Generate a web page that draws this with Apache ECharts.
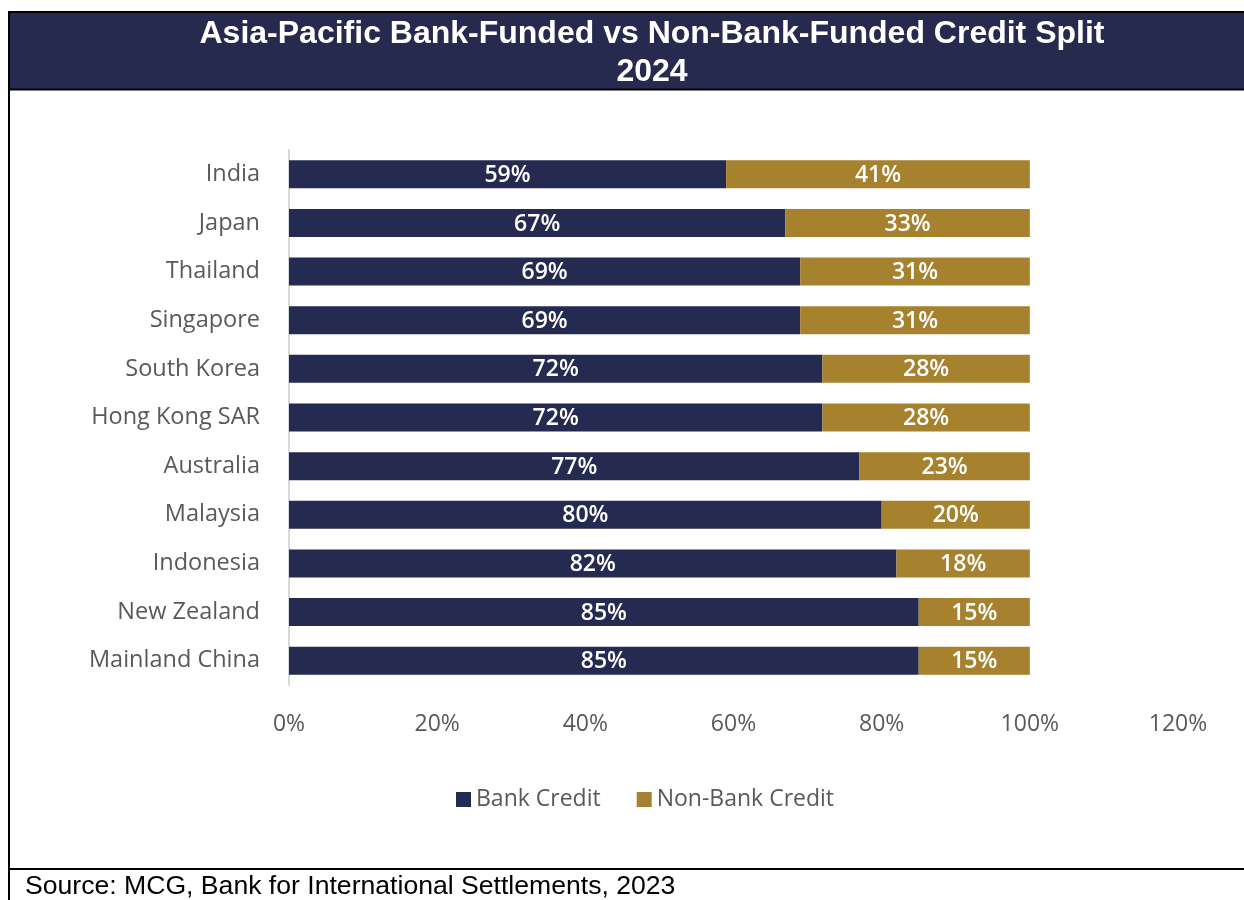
<!DOCTYPE html>
<html>
<head>
<meta charset="utf-8">
<title>Asia-Pacific Bank-Funded vs Non-Bank-Funded Credit Split 2024</title>
<script src="https://cdn.jsdelivr.net/npm/echarts@6/dist/echarts.min.js"></script>
<style>
  html, body { margin: 0; padding: 0; background: #ffffff; }
  #chart { width: 1244px; height: 900px; }
</style>
</head>
<body>
<div id="chart"></div>
<script>
// Markets, top to bottom
const markets = [
  'India', 'Japan', 'Thailand', 'Singapore', 'South Korea', 'Hong Kong SAR',
  'Australia', 'Malaysia', 'Indonesia', 'New Zealand', 'Mainland China'
];
// Share of credit funded by banks (%)
const bankCredit = [59, 67, 69, 69, 72, 72, 77, 80, 82, 85, 85];
// Share of credit funded outside the banking system (%)
const nonBankCredit = [41, 33, 31, 31, 28, 28, 23, 20, 18, 15, 15];
// Value axis ticks (%)
const axisMin = 0, axisMax = 120, axisStep = 20;

const NAVY = '#252a50';
const GOLD = '#a6812e';
const GREY_TEXT = '#595959';
const LABEL_FONT = '"Open Sans", "Noto Sans", sans-serif';

const chart = echarts.init(document.getElementById('chart'), null, { renderer: 'canvas' });

const barLabel = {
  show: true,
  position: 'inside',
  color: '#ffffff',
  fontFamily: LABEL_FONT,
  fontSize: 23,
  fontWeight: 600,
  offset: [0, 1],
  formatter: p => p.value + '%'
};

chart.setOption({
  backgroundColor: '#ffffff',
  animation: false,
  graphic: [
    // heading band
    { type: 'rect', z: 0, shape: { x: 9, y: 12, width: 1240, height: 77 }, style: { fill: '#262a4f' } },
    // frame lines
    { type: 'line', z: 1, shape: { x1: 8, y1: 12, x2: 1244, y2: 12 }, style: { stroke: '#000', lineWidth: 2 } },
    { type: 'line', z: 1, shape: { x1: 8, y1: 89.5, x2: 1244, y2: 89.5 }, style: { stroke: '#000', lineWidth: 2 } },
    { type: 'line', z: 1, shape: { x1: 9, y1: 11, x2: 9, y2: 900 }, style: { stroke: '#000', lineWidth: 2 } },
    { type: 'line', z: 1, shape: { x1: 8, y1: 869, x2: 1244, y2: 869 }, style: { stroke: '#000', lineWidth: 2 } },
    // heading text, two centred lines
    {
      type: 'text', z: 2, x: 652, y: 15,
      style: {
        text: 'Asia-Pacific Bank-Funded vs Non-Bank-Funded Credit Split\n2024',
        fill: '#ffffff', font: 'bold 32px "Liberation Sans", Arial, sans-serif',
        align: 'center', verticalAlign: 'top', lineHeight: 38
      }
    },
    // source note
    {
      type: 'text', z: 2, x: 25, y: 873,
      style: {
        text: 'Source: MCG, Bank for International Settlements, 2023',
        fill: '#000000', font: '26.6px "Liberation Sans", Arial, sans-serif',
        align: 'left', verticalAlign: 'top'
      }
    }
  ],
  legend: {
    left: 451,
    top: 783,
    itemWidth: 15,
    itemHeight: 15,
    itemGap: 36,
    icon: 'rect',
    textStyle: { color: GREY_TEXT, fontFamily: LABEL_FONT, fontSize: 23 },
    data: ['Bank Credit', 'Non-Bank Credit']
  },
  grid: { left: 289, right: 66, top: 150, bottom: 215, containLabel: false },
  xAxis: {
    type: 'value',
    min: axisMin,
    max: axisMax,
    interval: axisStep,
    axisLine: { show: false },
    axisTick: { show: false },
    splitLine: { show: false },
    axisLabel: {
      color: GREY_TEXT, fontFamily: LABEL_FONT, fontSize: 23, margin: 28,
      formatter: '{value}%'
    }
  },
  yAxis: {
    type: 'category',
    inverse: true,
    data: markets,
    axisLine: { show: true, lineStyle: { color: '#d9d9d9', width: 2 } },
    axisTick: { show: false },
    axisLabel: {
      color: GREY_TEXT, fontFamily: LABEL_FONT, fontSize: 23.5, margin: 29,
      verticalAlign: 'middle', padding: [8, 0, 0, 0]
    }
  },
  series: [
    {
      name: 'Bank Credit', type: 'bar', stack: 'credit', data: bankCredit,
      barWidth: 28, itemStyle: { color: NAVY }, label: barLabel
    },
    {
      name: 'Non-Bank Credit', type: 'bar', stack: 'credit', data: nonBankCredit,
      barWidth: 28, itemStyle: { color: GOLD }, label: barLabel
    }
  ]
});
</script>
</body>
</html>
